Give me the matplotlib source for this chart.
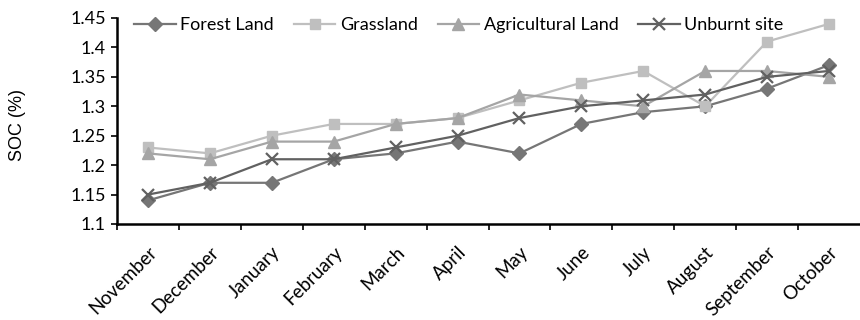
import matplotlib
matplotlib.use("Agg")
import matplotlib.pyplot as plt
from matplotlib.transforms import ScaledTranslation
import numpy as np

months = ["November", "December", "January", "February", "March", "April",
          "May", "June", "July", "August", "September", "October"]
forest_land = [1.14, 1.17, 1.17, 1.21, 1.22, 1.24, 1.22, 1.27, 1.29, 1.30, 1.33, 1.37]
grassland = [1.23, 1.22, 1.25, 1.27, 1.27, 1.28, 1.31, 1.34, 1.36, 1.30, 1.41, 1.44]
agricultural_land = [1.22, 1.21, 1.24, 1.24, 1.27, 1.28, 1.32, 1.31, 1.30, 1.36, 1.36, 1.35]
unburnt_site = [1.15, 1.17, 1.21, 1.21, 1.23, 1.25, 1.28, 1.30, 1.31, 1.32, 1.35, 1.36]
y_ticks = [1.1, 1.15, 1.2, 1.25, 1.3, 1.35, 1.4, 1.45]
y_tick_labels = ["1.1", "1.15", "1.2", "1.25", "1.3", "1.35", "1.4", "1.45"]

series = [
    ("Forest Land", forest_land, "#767676", "D", 7),
    ("Grassland", grassland, "#bfbfbf", "s", 7.5),
    ("Agricultural Land", agricultural_land, "#a5a5a5", "^", 8.5),
    ("Unburnt site", unburnt_site, "#616161", "x", 8),
]

plt.rcParams["font.family"] = ["Lato", "DejaVu Sans"]

W, H = 860, 320
fig = plt.figure(figsize=(W / 100, H / 100), dpi=100)
ax = fig.add_axes([117 / W, 1 - 224 / H, 1 - 117 / W, (224 - 18) / H])

x = np.arange(len(months))
for name, vals, color, marker, ms in series:
    ax.plot(x, vals, color=color, lw=1.6, marker=marker, markersize=ms,
            markerfacecolor=color, markeredgecolor=color,
            markeredgewidth=1.6 if marker == "x" else 1.0, label=name)

ax.set_xlim(-0.5, len(months) - 0.5)
ax.set_ylim(1.1, 1.45)
ax.set_yticks(y_ticks)
ax.set_yticklabels(y_tick_labels, fontsize=13)

ax.set_xticks(x)
ax.set_xticklabels(months, rotation=45, ha="right", va="top",
                   rotation_mode="anchor", fontsize=13.5)
# nudge the rotated month labels slightly left of the category centres
shift = ScaledTranslation(-6 / 100, 0, fig.dpi_scale_trans)
for lbl in ax.get_xticklabels():
    lbl.set_transform(lbl.get_transform() + shift)
ax.set_xticks(np.arange(-0.5, len(months) - 0.5), minor=True)
ax.tick_params(axis="x", which="major", length=0, pad=14)
ax.tick_params(axis="x", which="minor", length=4, width=1.2, direction="out")
ax.tick_params(axis="y", length=4, width=1.2, direction="out", pad=4)

for side in ("top", "right"):
    ax.spines[side].set_visible(False)
for side in ("left", "bottom"):
    ax.spines[side].set_linewidth(1.8)
    ax.spines[side].set_color("black")

fig.text(17 / W, 1 - 125 / H, "SOC (%)", rotation=90, ha="center", va="center",
         fontsize=13, family=["Liberation Sans"])

ax.legend(loc="upper left", ncol=4, frameon=False, fontsize=13,
          handlelength=2.3, handletextpad=0.25, columnspacing=1.1,
          bbox_to_anchor=(10 / 743, 1.04), borderaxespad=0.0)

fig.savefig("out.png", dpi=100)
